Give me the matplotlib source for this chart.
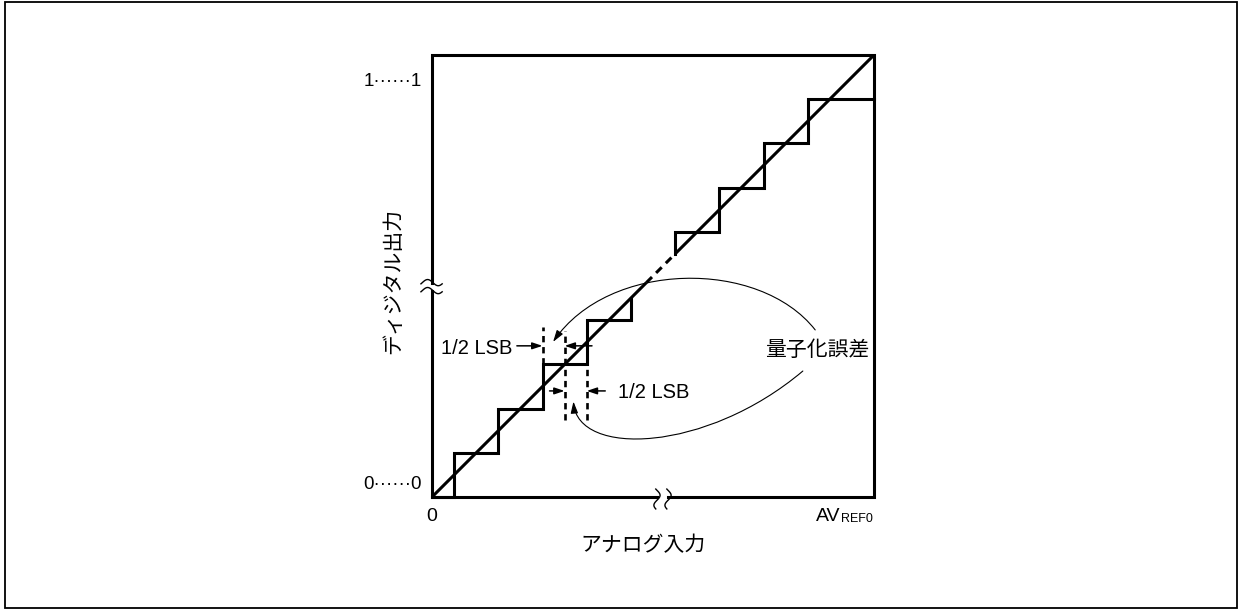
import numpy as np
import matplotlib
matplotlib.use('Agg')
import matplotlib.pyplot as plt
from matplotlib.patches import FancyArrowPatch, Rectangle
from matplotlib.path import Path

plt.rcParams['font.family'] = ['Liberation Sans', 'Noto Sans CJK JP', 'DejaVu Sans']
CJK = ['Noto Sans CJK JP', 'DejaVu Sans']

# ---------------- data ----------------
lower_step_x = [0, 0.5, 1.5, 2.5, 3.5, 4.5]
lower_step_y = [0, 1, 2, 3, 4, 4.5]
upper_step_x = [5.5, 5.5, 6.5, 7.5, 8.5, 10]
upper_step_y = [5.5, 6, 7, 8, 9, 9]
ideal_solid_lo = [0, 4.85]
ideal_dashed = [4.85, 5.5]
ideal_solid_hi = [5.5, 10]
lsb_guides_x = [2.5, 3.0, 3.5]
lsb_guides_y0 = [3.0, 1.75, 1.75]
lsb_guides_y1 = [3.85, 3.75, 3.0]
y_tick_labels = ['0······0', '1······1']
x_tick_left = '0'
x_tick_right_main = 'AV'
x_tick_right_sub = 'REF0'
x_label = 'アナログ入力'
y_label = 'ディジタル出力'
error_label = '量子化誤差'
lsb_label = '1/2 LSB'

W, H = 1239, 610
fig = plt.figure(figsize=(W / 100, H / 100), dpi=100)
ax = fig.add_axes([432 / W, 113 / H, 442 / W, 442 / H])
ax.set_xlim(0, 10)
ax.set_ylim(0, 10)
ax.set_axis_off()

LW = 2.2
# frame with axis breaks
ybrk = (4.67, 4.85)
xbrk = (5.09, 5.34)
ax.plot([0, 0, xbrk[0]], [ybrk[0], 0, 0], color='k', lw=LW, clip_on=False,
        solid_joinstyle='miter')
ax.plot([xbrk[1], 10, 10, 0, 0], [0, 0, 10, 10, ybrk[1]], color='k', lw=LW,
        clip_on=False, solid_joinstyle='miter')

# break squiggles
t = np.linspace(0, 1, 40)
for y0 in ybrk:
    ax.plot(-0.25 + 0.48 * t, y0 + 0.07 * np.sin(2 * np.pi * t - 0.4),
            color='k', lw=1.0, clip_on=False)
for x0 in xbrk:
    ax.plot(x0 + 0.07 * np.sin(2 * np.pi * t - 0.4), 0.18 - 0.45 * t,
            color='k', lw=1.0, clip_on=False)

# ideal line
ax.plot(ideal_solid_lo, ideal_solid_lo, color='k', lw=LW, solid_capstyle='butt')
ax.plot(ideal_dashed, ideal_dashed, color='k', lw=LW, ls=(0, (2.6, 1.9)))
ax.plot(ideal_solid_hi, ideal_solid_hi, color='k', lw=LW, solid_capstyle='butt')

# staircase
ax.step(lower_step_x, lower_step_y, where='post', color='k', lw=LW,
        solid_joinstyle='miter', clip_on=False)
ax.step(upper_step_x, upper_step_y, where='post', color='k', lw=LW,
        solid_joinstyle='miter', clip_on=False)

# dashed guides
for gx, g0, g1 in zip(lsb_guides_x, lsb_guides_y0, lsb_guides_y1):
    ax.plot([gx, gx], [g0, g1], color='k', lw=1.9, ls=(0, (2.4, 1.8)))

# 1/2 LSB arrows
ap = dict(arrowstyle='-|>,head_length=0.6,head_width=0.2', mutation_scale=10,
          lw=1.1, color='k', shrinkA=0, shrinkB=0)
ax.annotate('', xy=(2.5, 3.42), xytext=(1.92, 3.42), arrowprops=ap)
ax.annotate('', xy=(3.0, 3.42), xytext=(3.62, 3.42), arrowprops=ap)
ax.annotate('', xy=(3.0, 2.4), xytext=(2.66, 2.4), arrowprops=ap)
ax.annotate('', xy=(3.5, 2.4), xytext=(3.92, 2.4), arrowprops=ap)

ax.text(1.82, 3.37, lsb_label, ha='right', va='center', fontsize=14.5)
ax.text(4.2, 2.36, lsb_label, ha='left', va='center', fontsize=14.5)
ax.text(7.53, 3.33, error_label, ha='left', va='center', fontsize=15, family=CJK)

# curved leader arrows
cs = 'simple' if False else '-|>,head_length=0.7,head_width=0.22'
up_path = Path([(8.67, 3.78), (7.4, 5.4), (4.0, 5.35), (2.74, 3.51)],
               [Path.MOVETO, Path.CURVE4, Path.CURVE4, Path.CURVE4])
lo_path = Path([(8.39, 2.85), (6.2, 1.0), (3.3, 0.9), (3.2, 2.16)],
               [Path.MOVETO, Path.CURVE4, Path.CURVE4, Path.CURVE4])
for p in (up_path, lo_path):
    ax.add_patch(FancyArrowPatch(path=p, arrowstyle=cs, mutation_scale=10,
                                 lw=0.8, color='k'))

# tick labels
ax.text(-0.23, 0.29, y_tick_labels[0], ha='right', va='center', fontsize=13.5)
ax.text(-0.23, 9.39, y_tick_labels[1], ha='right', va='center', fontsize=13.5)
ax.text(0, -0.43, x_tick_left, ha='center', va='center', fontsize=14)
av = ax.text(8.69, -0.43, x_tick_right_main, ha='left', va='center', fontsize=14)
ax.annotate(x_tick_right_sub, xy=(1, 0), xycoords=av, ha='left', va='bottom',
            fontsize=9)

# axis labels
ax.text(4.77, -1.09, x_label, ha='center', va='center', fontsize=15, family=CJK)
ax.text(-0.88, 4.89, y_label, ha='center', va='center', rotation=90,
        fontsize=15, family=CJK)

# outer frame
fig.patches.append(Rectangle((5 / W, 2 / H), 1232 / W, 606 / H,
                             transform=fig.transFigure, fill=False,
                             lw=1.3, ec='k'))

fig.savefig('out.png', dpi=100)
